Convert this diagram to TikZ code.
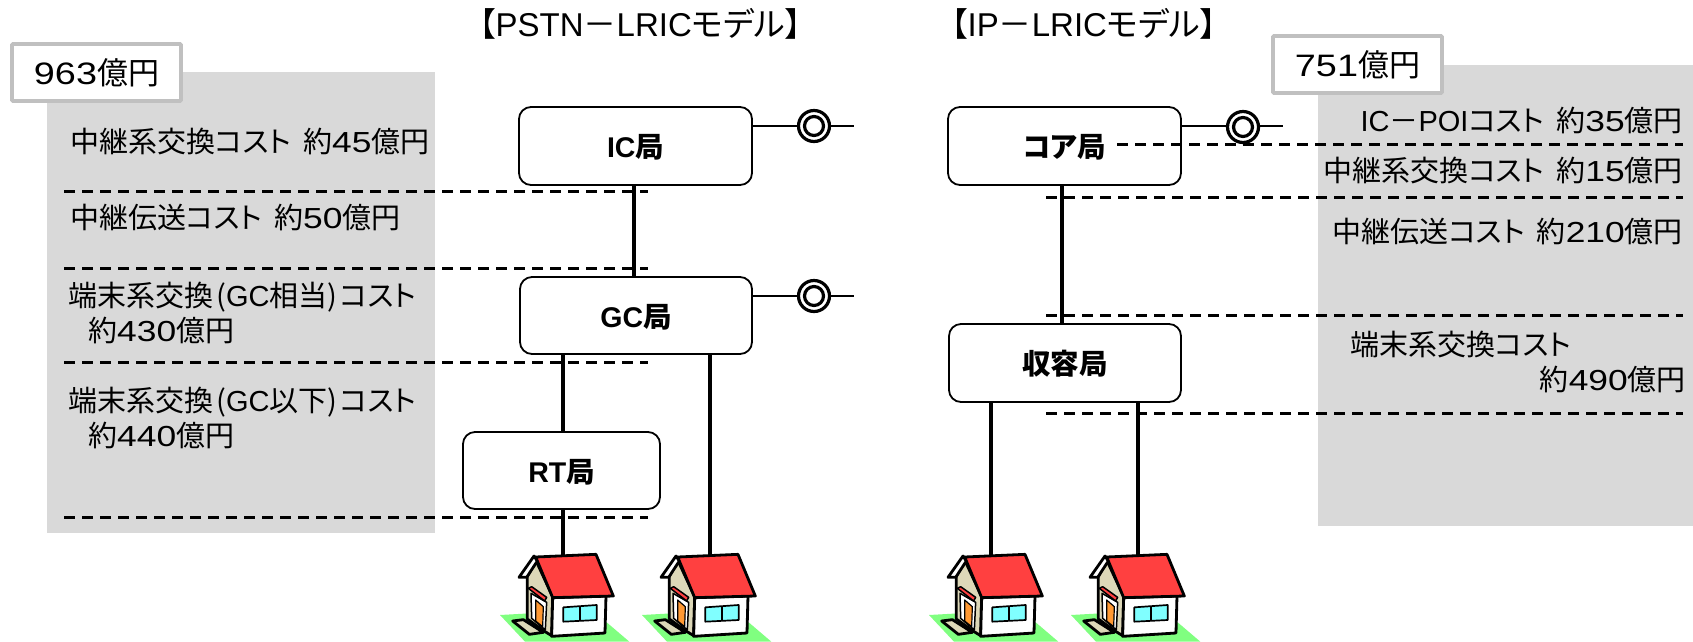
\documentclass[tikz,border=0pt]{standalone}
\usepackage{fontspec}
\setmainfont{Noto Sans CJK JP}[RawFeature={+palt}]
\newfontfamily\digs{Liberation Sans}[FakeStretch=1.22]
\newfontfamily\latn{Liberation Sans}
\newcommand{\gap}{\hspace{12pt}}
\newcommand{\D}[1]{{\digs #1}}
\newcommand{\Lt}[1]{{\latn #1}}
\newcommand{\PO}{\hspace{3pt}(}
\newcommand{\PC}{)\hspace{3pt}}
\newcommand{\house}[1]{%
\begin{scope}[shift={(#1)},scale=0.3333,line join=round]
 \fill[groundg] (0,210) -- (90,205) -- (320,232) -- (388,290) -- (75,290) -- cycle;
 \draw[houseline,fill=beigew] (38,228) -- (70,224) -- (130,262) -- (88,268) -- cycle;
 \draw[houseline,fill=beigew] (82,95) -- (107,45) -- (158,155) -- (155,272) -- (132,258) -- (82,222) -- cycle;
 \draw[houseline,fill=white] (57,97) -- (102,33) -- (112,48) -- (80,97) -- cycle;
 \draw[line width=1.5pt,fill=white] (93,145) -- (140,172) -- (136,255) -- (95,220) -- cycle;
 \draw[line width=1.2pt,fill=orangew] (107,165) -- (130,185) -- (128,245) -- (107,228) -- cycle;
 \draw[line width=1.5pt,fill=redr] (85,130) -- (95,125) -- (140,157) -- (134,168) -- cycle;
 \draw[houseline,fill=white] (158,158) -- (318,153) -- (315,264) -- (155,274) -- cycle;
 \draw[houseline,fill=redr] (107,36) -- (288,28) -- (340,153) -- (158,158) -- cycle;
 \draw[line width=1.7pt,fill=cyanw] (190,187) -- (290,180) -- (290,225) -- (190,230) -- cycle;
 \draw[line width=1.7pt] (240,184) -- (240,228);
\end{scope}}
\definecolor{greyp}{HTML}{D9D9D9}
\definecolor{labeledge}{HTML}{C0C0C0}
\definecolor{groundg}{HTML}{80FF80}
\definecolor{beigew}{HTML}{DDD8B8}
\definecolor{orangew}{HTML}{FF9933}
\definecolor{redr}{HTML}{FF4040}
\definecolor{cyanw}{HTML}{80FFFF}
\tikzset{
 houseline/.style={line width=2.8pt},
 office/.style={draw,line width=1.8pt,rounded corners=12pt,fill=white,inner sep=0pt,font=\fontsize{28.5}{28.5}\selectfont\bfseries,text height=25pt,text depth=2pt},
 trunk/.style={line width=4pt},
 stub/.style={line width=2.4pt},
 level/.style={line width=3pt,dash pattern=on 11pt off 7pt},
 poi/.style={circle,draw,line width=3.2pt,fill=white,minimum size=31pt,inner sep=0pt},
 poiin/.style={circle,draw,line width=3.2pt,minimum size=19pt,inner sep=0pt},
 cost/.style={inner sep=0pt,font=\fontsize{29}{29}\selectfont,text height=25.5pt,text depth=3.5pt},
 total/.style={draw=labeledge,line width=3.6pt,fill=white,rounded corners=1pt,inner sep=0pt,font=\fontsize{31}{31}\selectfont,text height=27pt,text depth=3.5pt},
 head/.style={inner sep=0pt,font=\fontsize{33}{33}\selectfont,text height=29pt,text depth=4pt},
}
\begin{document}
\begin{tikzpicture}[x=1pt,y=-1pt]
\useasboundingbox (0,0) rectangle (1693,641);
\clip (0,0) rectangle (1693,641);
\fill[white] (0,0) rectangle (1693,641);
% grey panels
\fill[greyp] (47,72) rectangle (435,533);
\fill[greyp] (1318,65) rectangle (1693,526);
% houses
\house{500,545}\house{642,545}\house{929,545}\house{1071,545}
\coordinate (h1) at (563,556);
\coordinate (h2) at (710,556);
\coordinate (h3) at (991,556);
\coordinate (h4) at (1138,556);
% offices
\node[office,minimum width=233pt,minimum height=78pt] (ic) at (635.5,146) {\Lt{IC}局};
\node[office,minimum width=232pt,minimum height=77pt] (gc) at (636,315.5) {\Lt{GC}局};
\node[office,minimum width=197pt,minimum height=77pt] (rt) at (561.5,470.5) {\Lt{RT}局};
\node[office,minimum width=233pt,minimum height=78pt] (core) at (1064.5,146) {コア局};
\node[office,minimum width=232pt,minimum height=78pt] (acc) at (1065,363) {収容局};
% trunks
\draw[trunk] (ic.south -| 634,0) -- (gc.north -| 634,0);
\draw[trunk] (gc.south -| 563,0) -- (rt.north -| 563,0);
\draw[trunk] (rt.south -| h1) -- (h1);
\draw[trunk] (gc.south -| h2) -- (h2);
\draw[trunk] (core.south -| 1062,0) -- (acc.north -| 1062,0);
\draw[trunk] (acc.south -| h3) -- (h3);
\draw[trunk] (acc.south -| h4) -- (h4);
% interconnection points
\coordinate (icend) at (854,126);
\coordinate (gcend) at (854,296);
\coordinate (coreend) at (1283,126);
\draw[stub] (ic.east |- icend) -- (icend);
\draw[stub] (gc.east |- gcend) -- (gcend);
\draw[stub] (core.east |- coreend) -- (coreend);
\node[poi] (p1) at (814,126) {}; \node[poiin] at (p1) {};
\node[poi] (p2) at (814,296) {}; \node[poiin] at (p2) {};
\node[poi] (p3) at (1243,127) {}; \node[poiin] at (p3) {};
% level lines
\foreach \y in {191,268,362,517} \draw[level] (64,\y) -- (648,\y);
\draw[level] (1117,144) -- (1683,144);
\foreach \y in {197,315,413} \draw[level] (1046,\y) -- (1683,\y);
% totals
\node[total,minimum width=169pt,minimum height=57pt] (t1) at (96.5,72.5) {\D{963}億円};
\node[total,minimum width=169pt,minimum height=57pt] (t2) at (1357.5,64.5) {\D{751}億円};
% headers
\node[head,anchor=west] (h-pstn) at (479,24) {【\Lt{PSTN}－\Lt{LRIC}モデル】};
\node[head,anchor=west] (h-ip) at (951,24) {【\Lt{IP}－\Lt{LRIC}モデル】};
% left costs
\node[cost,anchor=west] (a1) at (70,141) {中継系交換コスト\gap 約\D{45}億円};
\node[cost,anchor=west] (a2) at (70,217) {中継伝送コスト\gap 約\D{50}億円};
\node[cost,anchor=west] (a3) at (68,295) {端末系交換\PO\Lt{GC}相当\PC コスト};
\node[cost,anchor=west] (a4) at (88,330) {約\D{430}億円};
\node[cost,anchor=west] (a5) at (68,400) {端末系交換\PO\Lt{GC}以下\PC コスト};
\node[cost,anchor=west] (a6) at (88,435) {約\D{440}億円};
% right costs
\node[cost,anchor=east] (b1) at (1683,120) {\Lt{IC}－\Lt{POI}コスト\gap 約\D{35}億円};
\node[cost,anchor=east] (b2) at (1683,170) {中継系交換コスト\gap 約\D{15}億円};
\node[cost,anchor=east] (b3) at (1683,231) {中継伝送コスト\gap 約\D{210}億円};
\node[cost,anchor=west] (b4) at (1350,344) {端末系交換コスト};
\node[cost,anchor=east] (b5) at (1686,379) {約\D{490}億円};
\end{tikzpicture}
\end{document}
